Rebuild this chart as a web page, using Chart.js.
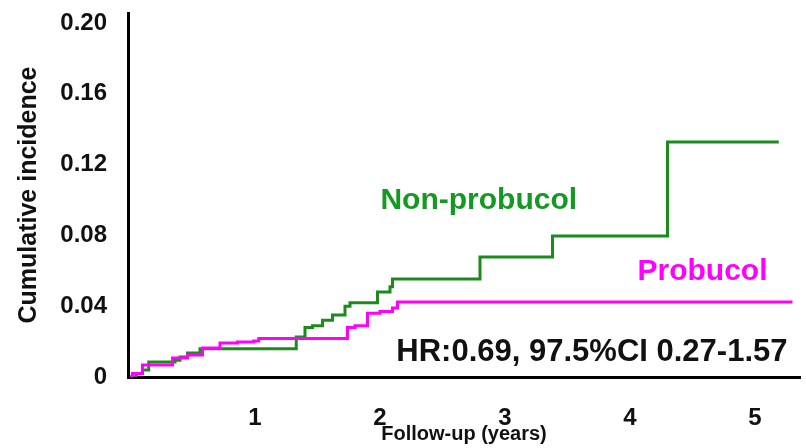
<!DOCTYPE html>
<html>
<head>
<meta charset="utf-8">
<script src="https://cdn.jsdelivr.net/npm/chart.js@4/dist/chart.umd.min.js"></script>
<style>
  html, body { margin: 0; padding: 0; background: #ffffff; }
  #wrap { width: 806px; height: 448px; }
</style>
</head>
<body>
<div id="wrap"><canvas id="c" width="806" height="448"></canvas></div>
<script>
// ---- Data (years, cumulative incidence) ----
const nonProbucolTimes  = [0, 0.05, 0.10, 0.15, 0.36, 0.40, 0.46, 0.56, 1.33, 1.40, 1.46, 1.54, 1.62, 1.72, 1.76, 1.98, 2.08, 2.10, 2.80, 3.38, 4.30, 5.19];
const nonProbucolValues = [0, 0.002, 0.004, 0.0085, 0.0095, 0.0113, 0.0136, 0.016, 0.0226, 0.028, 0.029, 0.032, 0.035, 0.040, 0.042, 0.048, 0.051, 0.0554, 0.0678, 0.0797, 0.1328, 0.1328];

const probucolTimes  = [0, 0.02, 0.10, 0.34, 0.46, 0.58, 0.72, 0.86, 0.99, 1.03, 1.74, 1.80, 1.90, 2.00, 2.10, 2.14, 5.30];
const probucolValues = [0, 0.002, 0.0068, 0.0107, 0.0124, 0.0164, 0.0192, 0.0198, 0.0203, 0.0218, 0.028, 0.029, 0.036, 0.037, 0.039, 0.0424, 0.0424];

const xTickValues = [1, 2, 3, 4, 5];
const xTickLabels = ['1', '2', '3', '4', '5'];
const yTickValues = [0, 0.04, 0.08, 0.12, 0.16, 0.20];
const yTickLabels = ['0', '0.04', '0.08', '0.12', '0.16', '0.20'];

const seriesNames = ['Non-probucol', 'Probucol'];
const hrText = 'HR:0.69, 97.5%CI 0.27-1.57';
const xTitle = 'Follow-up (years)';
const yTitle = 'Cumulative incidence';

// annotation anchor positions (in data units)
const labelNonProbucolPos = [2.79, 0.0994];
const labelProbucolPos = [4.58, 0.0593];
const hrPos = [5.26, 0.0141];

const GREEN_LINE = '#1b8c1b';
const GREEN_TEXT = '#149a22';
const MAGENTA = '#ff00ff';

const toPoints = (xs, ys) => xs.map((x, i) => ({ x: x, y: ys[i] }));

const FONT = '"Liberation Sans", Arial, sans-serif';

const annotationPlugin = {
  id: 'annotations',
  afterDatasetsDraw(chart) {
    const { ctx, scales: { x, y } } = chart;
    ctx.save();
    ctx.textBaseline = 'middle';
    ctx.font = 'bold 30px ' + FONT;
    ctx.fillStyle = GREEN_TEXT;
    ctx.textAlign = 'center';
    ctx.fillText(seriesNames[0], x.getPixelForValue(labelNonProbucolPos[0]), y.getPixelForValue(labelNonProbucolPos[1]));
    ctx.fillStyle = MAGENTA;
    ctx.font = 'bold 30px ' + FONT;
    ctx.fillText(seriesNames[1], x.getPixelForValue(labelProbucolPos[0]), y.getPixelForValue(labelProbucolPos[1]));
    ctx.fillStyle = '#111111';
    ctx.textAlign = 'right';
    ctx.font = 'bold 31px ' + FONT;
    ctx.fillText(hrText, x.getPixelForValue(hrPos[0]), y.getPixelForValue(hrPos[1]));
    ctx.restore();
  }
};

new Chart(document.getElementById('c'), {
  type: 'line',
  data: {
    datasets: [
      {
        label: seriesNames[1],
        data: toPoints(probucolTimes, probucolValues),
        borderColor: MAGENTA,
        borderWidth: 3,
        stepped: true,
        pointRadius: 0,
        fill: false
      },
      {
        label: seriesNames[0],
        data: toPoints(nonProbucolTimes, nonProbucolValues),
        borderColor: GREEN_LINE,
        borderWidth: 3,
        stepped: true,
        pointRadius: 0,
        fill: false
      }
    ]
  },
  options: {
    responsive: false,
    animation: false,
    devicePixelRatio: 1,
    layout: { padding: { top: 13, right: 6, left: 0, bottom: 0 } },
    plugins: { legend: { display: false }, tooltip: { enabled: false } },
    scales: {
      x: {
        type: 'linear',
        min: -0.016,
        max: 5.36,
        grid: { display: false, drawTicks: false },
        border: { display: true, color: '#000000', width: 3 },
        afterBuildTicks(scale) { scale.ticks = xTickValues.map(v => ({ value: v })); },
        afterFit(scale) { scale.height = 71; scale.paddingLeft = 0; scale.paddingRight = 0; },
        ticks: {
          padding: 27,
          color: '#111111',
          font: { family: FONT, size: 24, weight: 'bold' },
          callback(value, index) { return xTickLabels[index]; },
          maxRotation: 0,
          autoSkip: false
        },
        title: {
          display: true,
          text: xTitle,
          color: '#111111',
          font: { family: FONT, size: 20, weight: 'bold' },
          padding: { top: 0, bottom: 2 }
        }
      },
      y: {
        type: 'linear',
        min: 0,
        max: 0.2056,
        grid: { display: false, drawTicks: false },
        border: { display: true, color: '#000000', width: 3 },
        afterBuildTicks(scale) { scale.ticks = yTickValues.map(v => ({ value: v })); },
        afterFit(scale) { scale.width = 128; scale.paddingTop = 0; scale.paddingBottom = 0; },
        ticks: {
          padding: 21,
          color: '#111111',
          font: { family: FONT, size: 24, weight: 'bold' },
          callback(value, index) { return yTickLabels[index]; },
          autoSkip: false
        },
        title: {
          display: true,
          text: yTitle,
          color: '#111111',
          font: { family: FONT, size: 25, weight: 'bold' },
          padding: { top: 14, bottom: 0 }
        }
      }
    }
  },
  plugins: [annotationPlugin]
});
</script>
</body>
</html>
